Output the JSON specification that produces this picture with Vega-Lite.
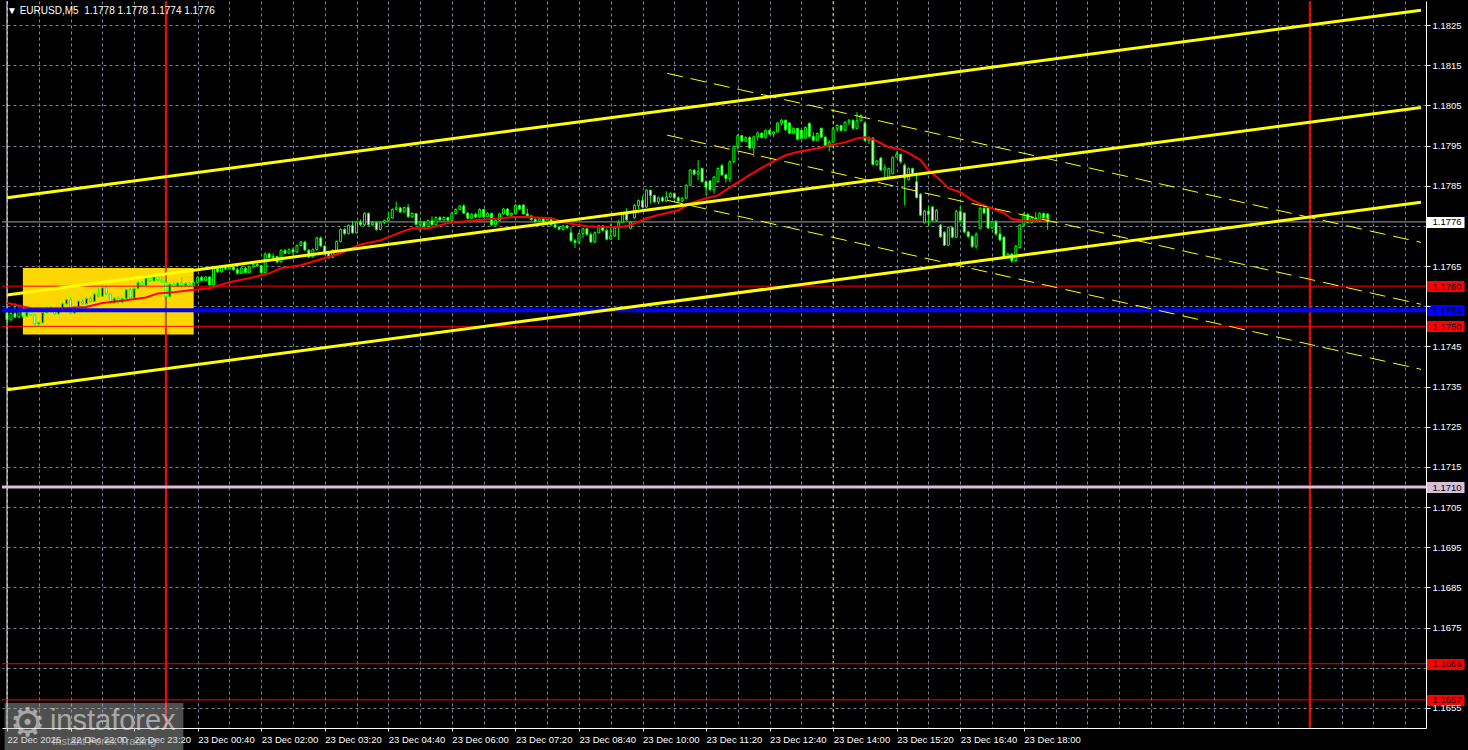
{
"$schema": "https://vega.github.io/schema/vega-lite/v6.json",
"width": 1424, "height": 727,
"autosize": {"type": "none"},
"padding": {"left": 2, "top": 1, "right": 42, "bottom": 22},
"background": "#000000",
"title": {"text": "▼ EURUSD,M5\u00a0\u00a01.1778 1.1778 1.1774 1.1776", "anchor": "start", "frame": "group", "orient": "top", "offset": -24, "dx": 5, "baseline": "alphabetic", "color": "#ffffff", "font": "Liberation Sans", "fontSize": 10, "fontWeight": "normal"},
"config": {
  "view": {"stroke": null, "fill": "#000000"},
  "axis": {"labelFont": "Liberation Sans", "labelFontSize": 9.5, "labelColor": "#ffffff", "domainColor": "#ffffff", "tickColor": "#ffffff", "gridColor": "#778899", "gridDash": [3, 3], "gridWidth": 1}
},
"datasets": {
"candles": [
{"t":"2025-12-22T20:40","o":1.17534,"h":1.17538,"l":1.17512,"c":1.17516},
{"t":"2025-12-22T20:45","o":1.17516,"h":1.17536,"l":1.17514,"c":1.17532},
{"t":"2025-12-22T20:50","o":1.17532,"h":1.17557,"l":1.17520,"c":1.17523},
{"t":"2025-12-22T20:55","o":1.17523,"h":1.17550,"l":1.17520,"c":1.17538},
{"t":"2025-12-22T21:00","o":1.17538,"h":1.17542,"l":1.17520,"c":1.17525},
{"t":"2025-12-22T21:05","o":1.17525,"h":1.17540,"l":1.17523,"c":1.17536},
{"t":"2025-12-22T21:10","o":1.17536,"h":1.17539,"l":1.17526,"c":1.17528},
{"t":"2025-12-22T21:15","o":1.17528,"h":1.17530,"l":1.17503,"c":1.17506},
{"t":"2025-12-22T21:20","o":1.17506,"h":1.17512,"l":1.17499,"c":1.17509},
{"t":"2025-12-22T21:25","o":1.17509,"h":1.17536,"l":1.17506,"c":1.17534},
{"t":"2025-12-22T21:30","o":1.17534,"h":1.17550,"l":1.17532,"c":1.17546},
{"t":"2025-12-22T21:35","o":1.17546,"h":1.17550,"l":1.17539,"c":1.17542},
{"t":"2025-12-22T21:40","o":1.17542,"h":1.17544,"l":1.17528,"c":1.17531},
{"t":"2025-12-22T21:45","o":1.17531,"h":1.17543,"l":1.17529,"c":1.17540},
{"t":"2025-12-22T21:50","o":1.17540,"h":1.17560,"l":1.17538,"c":1.17556},
{"t":"2025-12-22T21:55","o":1.17556,"h":1.17569,"l":1.17552,"c":1.17566},
{"t":"2025-12-22T22:00","o":1.17566,"h":1.17573,"l":1.17530,"c":1.17533},
{"t":"2025-12-22T22:05","o":1.17533,"h":1.17552,"l":1.17530,"c":1.17549},
{"t":"2025-12-22T22:10","o":1.17549,"h":1.17566,"l":1.17546,"c":1.17562},
{"t":"2025-12-22T22:15","o":1.17562,"h":1.17568,"l":1.17554,"c":1.17556},
{"t":"2025-12-22T22:20","o":1.17556,"h":1.17572,"l":1.17554,"c":1.17569},
{"t":"2025-12-22T22:25","o":1.17569,"h":1.17574,"l":1.17559,"c":1.17562},
{"t":"2025-12-22T22:30","o":1.17562,"h":1.17584,"l":1.17560,"c":1.17580},
{"t":"2025-12-22T22:35","o":1.17580,"h":1.17598,"l":1.17572,"c":1.17575},
{"t":"2025-12-22T22:40","o":1.17575,"h":1.17602,"l":1.17573,"c":1.17596},
{"t":"2025-12-22T22:45","o":1.17596,"h":1.17599,"l":1.17578,"c":1.17581},
{"t":"2025-12-22T22:50","o":1.17581,"h":1.17583,"l":1.17554,"c":1.17558},
{"t":"2025-12-22T22:55","o":1.17558,"h":1.17573,"l":1.17555,"c":1.17570},
{"t":"2025-12-22T23:00","o":1.17570,"h":1.17575,"l":1.17556,"c":1.17560},
{"t":"2025-12-22T23:05","o":1.17560,"h":1.17572,"l":1.17557,"c":1.17569},
{"t":"2025-12-22T23:10","o":1.17569,"h":1.17594,"l":1.17567,"c":1.17591},
{"t":"2025-12-22T23:15","o":1.17591,"h":1.17596,"l":1.17568,"c":1.17570},
{"t":"2025-12-22T23:20","o":1.17570,"h":1.17598,"l":1.17568,"c":1.17594},
{"t":"2025-12-22T23:25","o":1.17594,"h":1.17613,"l":1.17592,"c":1.17609},
{"t":"2025-12-22T23:30","o":1.17609,"h":1.17614,"l":1.17598,"c":1.17602},
{"t":"2025-12-22T23:35","o":1.17602,"h":1.17625,"l":1.17600,"c":1.17620},
{"t":"2025-12-22T23:40","o":1.17620,"h":1.17626,"l":1.17610,"c":1.17613},
{"t":"2025-12-22T23:45","o":1.17613,"h":1.17628,"l":1.17611,"c":1.17624},
{"t":"2025-12-22T23:50","o":1.17624,"h":1.17627,"l":1.17612,"c":1.17615},
{"t":"2025-12-22T23:55","o":1.17615,"h":1.17626,"l":1.17608,"c":1.17610},
{"t":"2025-12-23T00:00","o":1.17610,"h":1.17645,"l":1.17495,"c":1.17574},
{"t":"2025-12-23T00:05","o":1.17574,"h":1.17609,"l":1.17572,"c":1.17605},
{"t":"2025-12-23T00:10","o":1.17605,"h":1.17610,"l":1.17596,"c":1.17599},
{"t":"2025-12-23T00:15","o":1.17599,"h":1.17612,"l":1.17597,"c":1.17608},
{"t":"2025-12-23T00:20","o":1.17608,"h":1.17622,"l":1.17594,"c":1.17601},
{"t":"2025-12-23T00:25","o":1.17601,"h":1.17610,"l":1.17598,"c":1.17607},
{"t":"2025-12-23T00:30","o":1.17607,"h":1.17610,"l":1.17599,"c":1.17602},
{"t":"2025-12-23T00:35","o":1.17602,"h":1.17612,"l":1.17600,"c":1.17609},
{"t":"2025-12-23T00:40","o":1.17609,"h":1.17625,"l":1.17607,"c":1.17622},
{"t":"2025-12-23T00:45","o":1.17622,"h":1.17626,"l":1.17612,"c":1.17614},
{"t":"2025-12-23T00:50","o":1.17614,"h":1.17625,"l":1.17612,"c":1.17623},
{"t":"2025-12-23T00:55","o":1.17623,"h":1.17624,"l":1.17600,"c":1.17603},
{"t":"2025-12-23T01:00","o":1.17603,"h":1.17648,"l":1.17601,"c":1.17644},
{"t":"2025-12-23T01:05","o":1.17644,"h":1.17650,"l":1.17633,"c":1.17636},
{"t":"2025-12-23T01:10","o":1.17636,"h":1.17649,"l":1.17634,"c":1.17646},
{"t":"2025-12-23T01:15","o":1.17646,"h":1.17652,"l":1.17640,"c":1.17643},
{"t":"2025-12-23T01:20","o":1.17643,"h":1.17650,"l":1.17641,"c":1.17648},
{"t":"2025-12-23T01:25","o":1.17648,"h":1.17651,"l":1.17639,"c":1.17641},
{"t":"2025-12-23T01:30","o":1.17641,"h":1.17646,"l":1.17629,"c":1.17632},
{"t":"2025-12-23T01:35","o":1.17632,"h":1.17648,"l":1.17630,"c":1.17645},
{"t":"2025-12-23T01:40","o":1.17645,"h":1.17649,"l":1.17631,"c":1.17634},
{"t":"2025-12-23T01:45","o":1.17634,"h":1.17651,"l":1.17632,"c":1.17648},
{"t":"2025-12-23T01:50","o":1.17648,"h":1.17658,"l":1.17645,"c":1.17654},
{"t":"2025-12-23T01:55","o":1.17654,"h":1.17659,"l":1.17648,"c":1.17651},
{"t":"2025-12-23T02:00","o":1.17651,"h":1.17653,"l":1.17630,"c":1.17634},
{"t":"2025-12-23T02:05","o":1.17634,"h":1.17684,"l":1.17632,"c":1.17680},
{"t":"2025-12-23T02:10","o":1.17680,"h":1.17684,"l":1.17669,"c":1.17671},
{"t":"2025-12-23T02:15","o":1.17671,"h":1.17682,"l":1.17665,"c":1.17674},
{"t":"2025-12-23T02:20","o":1.17674,"h":1.17676,"l":1.17658,"c":1.17660},
{"t":"2025-12-23T02:25","o":1.17660,"h":1.17692,"l":1.17659,"c":1.17689},
{"t":"2025-12-23T02:30","o":1.17689,"h":1.17693,"l":1.17680,"c":1.17682},
{"t":"2025-12-23T02:35","o":1.17682,"h":1.17694,"l":1.17680,"c":1.17691},
{"t":"2025-12-23T02:40","o":1.17691,"h":1.17696,"l":1.17678,"c":1.17685},
{"t":"2025-12-23T02:45","o":1.17685,"h":1.17704,"l":1.17683,"c":1.17701},
{"t":"2025-12-23T02:50","o":1.17701,"h":1.17713,"l":1.17699,"c":1.17710},
{"t":"2025-12-23T02:55","o":1.17710,"h":1.17713,"l":1.17688,"c":1.17690},
{"t":"2025-12-23T03:00","o":1.17690,"h":1.17692,"l":1.17670,"c":1.17673},
{"t":"2025-12-23T03:05","o":1.17673,"h":1.17694,"l":1.17671,"c":1.17691},
{"t":"2025-12-23T03:10","o":1.17691,"h":1.17723,"l":1.17689,"c":1.17720},
{"t":"2025-12-23T03:15","o":1.17720,"h":1.17724,"l":1.17698,"c":1.17700},
{"t":"2025-12-23T03:20","o":1.17700,"h":1.17702,"l":1.17678,"c":1.17681},
{"t":"2025-12-23T03:25","o":1.17681,"h":1.17684,"l":1.17668,"c":1.17672},
{"t":"2025-12-23T03:30","o":1.17672,"h":1.17692,"l":1.17670,"c":1.17689},
{"t":"2025-12-23T03:35","o":1.17689,"h":1.17714,"l":1.17687,"c":1.17711},
{"t":"2025-12-23T03:40","o":1.17711,"h":1.17744,"l":1.17709,"c":1.17741},
{"t":"2025-12-23T03:45","o":1.17741,"h":1.17745,"l":1.17728,"c":1.17731},
{"t":"2025-12-23T03:50","o":1.17731,"h":1.17754,"l":1.17729,"c":1.17751},
{"t":"2025-12-23T03:55","o":1.17751,"h":1.17762,"l":1.17730,"c":1.17733},
{"t":"2025-12-23T04:00","o":1.17733,"h":1.17762,"l":1.17731,"c":1.17759},
{"t":"2025-12-23T04:05","o":1.17759,"h":1.17766,"l":1.17749,"c":1.17753},
{"t":"2025-12-23T04:10","o":1.17753,"h":1.17784,"l":1.17750,"c":1.17781},
{"t":"2025-12-23T04:15","o":1.17781,"h":1.17784,"l":1.17750,"c":1.17753},
{"t":"2025-12-23T04:20","o":1.17753,"h":1.17762,"l":1.17750,"c":1.17759},
{"t":"2025-12-23T04:25","o":1.17759,"h":1.17761,"l":1.17738,"c":1.17741},
{"t":"2025-12-23T04:30","o":1.17741,"h":1.17761,"l":1.17739,"c":1.17758},
{"t":"2025-12-23T04:35","o":1.17758,"h":1.17766,"l":1.17754,"c":1.17763},
{"t":"2025-12-23T04:40","o":1.17763,"h":1.17784,"l":1.17760,"c":1.17770},
{"t":"2025-12-23T04:45","o":1.17770,"h":1.17794,"l":1.17768,"c":1.17791},
{"t":"2025-12-23T04:50","o":1.17791,"h":1.17810,"l":1.17788,"c":1.17795},
{"t":"2025-12-23T04:55","o":1.17795,"h":1.17798,"l":1.17782,"c":1.17785},
{"t":"2025-12-23T05:00","o":1.17785,"h":1.17798,"l":1.17783,"c":1.17796},
{"t":"2025-12-23T05:05","o":1.17796,"h":1.17804,"l":1.17770,"c":1.17773},
{"t":"2025-12-23T05:10","o":1.17773,"h":1.17784,"l":1.17770,"c":1.17781},
{"t":"2025-12-23T05:15","o":1.17781,"h":1.17782,"l":1.17751,"c":1.17754},
{"t":"2025-12-23T05:20","o":1.17754,"h":1.17764,"l":1.17735,"c":1.17759},
{"t":"2025-12-23T05:25","o":1.17759,"h":1.17762,"l":1.17746,"c":1.17749},
{"t":"2025-12-23T05:30","o":1.17749,"h":1.17766,"l":1.17747,"c":1.17763},
{"t":"2025-12-23T05:35","o":1.17763,"h":1.17774,"l":1.17750,"c":1.17753},
{"t":"2025-12-23T05:40","o":1.17753,"h":1.17774,"l":1.17751,"c":1.17771},
{"t":"2025-12-23T05:45","o":1.17771,"h":1.17774,"l":1.17762,"c":1.17765},
{"t":"2025-12-23T05:50","o":1.17765,"h":1.17774,"l":1.17763,"c":1.17771},
{"t":"2025-12-23T05:55","o":1.17771,"h":1.17773,"l":1.17762,"c":1.17764},
{"t":"2025-12-23T06:00","o":1.17764,"h":1.17784,"l":1.17762,"c":1.17781},
{"t":"2025-12-23T06:05","o":1.17781,"h":1.17794,"l":1.17779,"c":1.17791},
{"t":"2025-12-23T06:10","o":1.17791,"h":1.17802,"l":1.17789,"c":1.17800},
{"t":"2025-12-23T06:15","o":1.17800,"h":1.17804,"l":1.17780,"c":1.17782},
{"t":"2025-12-23T06:20","o":1.17782,"h":1.17784,"l":1.17766,"c":1.17769},
{"t":"2025-12-23T06:25","o":1.17769,"h":1.17782,"l":1.17767,"c":1.17779},
{"t":"2025-12-23T06:30","o":1.17779,"h":1.17783,"l":1.17769,"c":1.17772},
{"t":"2025-12-23T06:35","o":1.17772,"h":1.17794,"l":1.17770,"c":1.17791},
{"t":"2025-12-23T06:40","o":1.17791,"h":1.17793,"l":1.17770,"c":1.17773},
{"t":"2025-12-23T06:45","o":1.17773,"h":1.17784,"l":1.17771,"c":1.17781},
{"t":"2025-12-23T06:50","o":1.17781,"h":1.17783,"l":1.17750,"c":1.17753},
{"t":"2025-12-23T06:55","o":1.17753,"h":1.17766,"l":1.17751,"c":1.17764},
{"t":"2025-12-23T07:00","o":1.17764,"h":1.17783,"l":1.17762,"c":1.17780},
{"t":"2025-12-23T07:05","o":1.17780,"h":1.17795,"l":1.17778,"c":1.17792},
{"t":"2025-12-23T07:10","o":1.17792,"h":1.17794,"l":1.17774,"c":1.17777},
{"t":"2025-12-23T07:15","o":1.17777,"h":1.17783,"l":1.17770,"c":1.17781},
{"t":"2025-12-23T07:20","o":1.17781,"h":1.17805,"l":1.17779,"c":1.17801},
{"t":"2025-12-23T07:25","o":1.17801,"h":1.17803,"l":1.17789,"c":1.17792},
{"t":"2025-12-23T07:30","o":1.17802,"h":1.17804,"l":1.17778,"c":1.17780},
{"t":"2025-12-23T07:35","o":1.17780,"h":1.17793,"l":1.17772,"c":1.17775},
{"t":"2025-12-23T07:40","o":1.17775,"h":1.17776,"l":1.17763,"c":1.17766},
{"t":"2025-12-23T07:45","o":1.17766,"h":1.17770,"l":1.17758,"c":1.17761},
{"t":"2025-12-23T07:50","o":1.17761,"h":1.17770,"l":1.17759,"c":1.17768},
{"t":"2025-12-23T07:55","o":1.17768,"h":1.17770,"l":1.17756,"c":1.17759},
{"t":"2025-12-23T08:00","o":1.17759,"h":1.17770,"l":1.17757,"c":1.17767},
{"t":"2025-12-23T08:05","o":1.17767,"h":1.17772,"l":1.17750,"c":1.17753},
{"t":"2025-12-23T08:10","o":1.17753,"h":1.17756,"l":1.17744,"c":1.17747},
{"t":"2025-12-23T08:15","o":1.17747,"h":1.17750,"l":1.17739,"c":1.17742},
{"t":"2025-12-23T08:20","o":1.17742,"h":1.17753,"l":1.17738,"c":1.17750},
{"t":"2025-12-23T08:25","o":1.17750,"h":1.17752,"l":1.17743,"c":1.17745},
{"t":"2025-12-23T08:30","o":1.17733,"h":1.17747,"l":1.17710,"c":1.17713},
{"t":"2025-12-23T08:35","o":1.17713,"h":1.17718,"l":1.17695,"c":1.17709},
{"t":"2025-12-23T08:40","o":1.17709,"h":1.17734,"l":1.17706,"c":1.17731},
{"t":"2025-12-23T08:45","o":1.17731,"h":1.17746,"l":1.17720,"c":1.17743},
{"t":"2025-12-23T08:50","o":1.17743,"h":1.17745,"l":1.17726,"c":1.17729},
{"t":"2025-12-23T08:55","o":1.17729,"h":1.17734,"l":1.17708,"c":1.17710},
{"t":"2025-12-23T09:00","o":1.17710,"h":1.17736,"l":1.17707,"c":1.17733},
{"t":"2025-12-23T09:05","o":1.17733,"h":1.17753,"l":1.17731,"c":1.17750},
{"t":"2025-12-23T09:10","o":1.17750,"h":1.17752,"l":1.17736,"c":1.17739},
{"t":"2025-12-23T09:15","o":1.17739,"h":1.17744,"l":1.17714,"c":1.17717},
{"t":"2025-12-23T09:20","o":1.17717,"h":1.17756,"l":1.17715,"c":1.17725},
{"t":"2025-12-23T09:25","o":1.17725,"h":1.17748,"l":1.17723,"c":1.17745},
{"t":"2025-12-23T09:30","o":1.17745,"h":1.17765,"l":1.17715,"c":1.17759},
{"t":"2025-12-23T09:35","o":1.17759,"h":1.17784,"l":1.17757,"c":1.17780},
{"t":"2025-12-23T09:40","o":1.17780,"h":1.17794,"l":1.17762,"c":1.17765},
{"t":"2025-12-23T09:45","o":1.17744,"h":1.17762,"l":1.17742,"c":1.17759},
{"t":"2025-12-23T09:50","o":1.17770,"h":1.17804,"l":1.17768,"c":1.17801},
{"t":"2025-12-23T09:55","o":1.17801,"h":1.17816,"l":1.17792,"c":1.17813},
{"t":"2025-12-23T10:00","o":1.17813,"h":1.17824,"l":1.17794,"c":1.17797},
{"t":"2025-12-23T10:05","o":1.17797,"h":1.17842,"l":1.17795,"c":1.17839},
{"t":"2025-12-23T10:10","o":1.17839,"h":1.17840,"l":1.17806,"c":1.17826},
{"t":"2025-12-23T10:15","o":1.17826,"h":1.17828,"l":1.17807,"c":1.17810},
{"t":"2025-12-23T10:20","o":1.17810,"h":1.17823,"l":1.17804,"c":1.17820},
{"t":"2025-12-23T10:25","o":1.17820,"h":1.17824,"l":1.17809,"c":1.17812},
{"t":"2025-12-23T10:30","o":1.17812,"h":1.17836,"l":1.17810,"c":1.17822},
{"t":"2025-12-23T10:35","o":1.17822,"h":1.17834,"l":1.17820,"c":1.17831},
{"t":"2025-12-23T10:40","o":1.17831,"h":1.17833,"l":1.17817,"c":1.17820},
{"t":"2025-12-23T10:45","o":1.17820,"h":1.17824,"l":1.17808,"c":1.17812},
{"t":"2025-12-23T10:50","o":1.17812,"h":1.17822,"l":1.17809,"c":1.17819},
{"t":"2025-12-23T10:55","o":1.17819,"h":1.17854,"l":1.17817,"c":1.17851},
{"t":"2025-12-23T11:00","o":1.17851,"h":1.17892,"l":1.17849,"c":1.17889},
{"t":"2025-12-23T11:05","o":1.17889,"h":1.17891,"l":1.17876,"c":1.17879},
{"t":"2025-12-23T11:10","o":1.17879,"h":1.17914,"l":1.17864,"c":1.17885},
{"t":"2025-12-23T11:15","o":1.17893,"h":1.17895,"l":1.17858,"c":1.17860},
{"t":"2025-12-23T11:20","o":1.17860,"h":1.17864,"l":1.17826,"c":1.17846},
{"t":"2025-12-23T11:25","o":1.17862,"h":1.17864,"l":1.17838,"c":1.17840},
{"t":"2025-12-23T11:30","o":1.17840,"h":1.17874,"l":1.17830,"c":1.17872},
{"t":"2025-12-23T11:35","o":1.17860,"h":1.17896,"l":1.17858,"c":1.17893},
{"t":"2025-12-23T11:40","o":1.17900,"h":1.17904,"l":1.17874,"c":1.17877},
{"t":"2025-12-23T11:45","o":1.17877,"h":1.17880,"l":1.17858,"c":1.17868},
{"t":"2025-12-23T11:50","o":1.17868,"h":1.17913,"l":1.17859,"c":1.17910},
{"t":"2025-12-23T11:55","o":1.17910,"h":1.17950,"l":1.17906,"c":1.17948},
{"t":"2025-12-23T12:00","o":1.17948,"h":1.17978,"l":1.17940,"c":1.17975},
{"t":"2025-12-23T12:05","o":1.17975,"h":1.17977,"l":1.17958,"c":1.17961},
{"t":"2025-12-23T12:10","o":1.17961,"h":1.17973,"l":1.17959,"c":1.17970},
{"t":"2025-12-23T12:15","o":1.17970,"h":1.17974,"l":1.17940,"c":1.17944},
{"t":"2025-12-23T12:20","o":1.17944,"h":1.17975,"l":1.17923,"c":1.17972},
{"t":"2025-12-23T12:25","o":1.17972,"h":1.17985,"l":1.17962,"c":1.17981},
{"t":"2025-12-23T12:30","o":1.17981,"h":1.17983,"l":1.17968,"c":1.17970},
{"t":"2025-12-23T12:35","o":1.17970,"h":1.17990,"l":1.17968,"c":1.17988},
{"t":"2025-12-23T12:40","o":1.17988,"h":1.17990,"l":1.17976,"c":1.17979},
{"t":"2025-12-23T12:45","o":1.17979,"h":1.17986,"l":1.17971,"c":1.17984},
{"t":"2025-12-23T12:50","o":1.17984,"h":1.18009,"l":1.17982,"c":1.18006},
{"t":"2025-12-23T12:55","o":1.18006,"h":1.18016,"l":1.18000,"c":1.18013},
{"t":"2025-12-23T13:00","o":1.18013,"h":1.18015,"l":1.17986,"c":1.17990},
{"t":"2025-12-23T13:05","o":1.18006,"h":1.18009,"l":1.17979,"c":1.17981},
{"t":"2025-12-23T13:10","o":1.17981,"h":1.17995,"l":1.17978,"c":1.17993},
{"t":"2025-12-23T13:15","o":1.17993,"h":1.17994,"l":1.17963,"c":1.17966},
{"t":"2025-12-23T13:20","o":1.17988,"h":1.17990,"l":1.17966,"c":1.17968},
{"t":"2025-12-23T13:25","o":1.17968,"h":1.17998,"l":1.17966,"c":1.17995},
{"t":"2025-12-23T13:30","o":1.18005,"h":1.18008,"l":1.17970,"c":1.17973},
{"t":"2025-12-23T13:35","o":1.17973,"h":1.17983,"l":1.17960,"c":1.17963},
{"t":"2025-12-23T13:40","o":1.17963,"h":1.17983,"l":1.17961,"c":1.17980},
{"t":"2025-12-23T13:45","o":1.17993,"h":1.17995,"l":1.17968,"c":1.17971},
{"t":"2025-12-23T13:50","o":1.17971,"h":1.17973,"l":1.17945,"c":1.17948},
{"t":"2025-12-23T13:55","o":1.17948,"h":1.17963,"l":1.17935,"c":1.17959},
{"t":"2025-12-23T14:00","o":1.17959,"h":1.17995,"l":1.17957,"c":1.17991},
{"t":"2025-12-23T14:05","o":1.17991,"h":1.18003,"l":1.17984,"c":1.18000},
{"t":"2025-12-23T14:10","o":1.18000,"h":1.18002,"l":1.17985,"c":1.17988},
{"t":"2025-12-23T14:15","o":1.17988,"h":1.18011,"l":1.17986,"c":1.18008},
{"t":"2025-12-23T14:20","o":1.18008,"h":1.18016,"l":1.18000,"c":1.18013},
{"t":"2025-12-23T14:25","o":1.18013,"h":1.18015,"l":1.17990,"c":1.17993},
{"t":"2025-12-23T14:30","o":1.17993,"h":1.18033,"l":1.17991,"c":1.18012},
{"t":"2025-12-23T14:35","o":1.18012,"h":1.18028,"l":1.18010,"c":1.18025},
{"t":"2025-12-23T14:40","o":1.18006,"h":1.18010,"l":1.17960,"c":1.17963},
{"t":"2025-12-23T14:45","o":1.17963,"h":1.17973,"l":1.17954,"c":1.17969},
{"t":"2025-12-23T14:50","o":1.17969,"h":1.17971,"l":1.17900,"c":1.17903},
{"t":"2025-12-23T14:55","o":1.17903,"h":1.17915,"l":1.17900,"c":1.17912},
{"t":"2025-12-23T15:00","o":1.17919,"h":1.17922,"l":1.17887,"c":1.17889},
{"t":"2025-12-23T15:05","o":1.17889,"h":1.17903,"l":1.17864,"c":1.17895},
{"t":"2025-12-23T15:10","o":1.17870,"h":1.17895,"l":1.17867,"c":1.17893},
{"t":"2025-12-23T15:15","o":1.17880,"h":1.17923,"l":1.17878,"c":1.17921},
{"t":"2025-12-23T15:20","o":1.17921,"h":1.17936,"l":1.17920,"c":1.17928},
{"t":"2025-12-23T15:25","o":1.17928,"h":1.17930,"l":1.17905,"c":1.17910},
{"t":"2025-12-23T15:30","o":1.17901,"h":1.17906,"l":1.17802,"c":1.17869},
{"t":"2025-12-23T15:35","o":1.17865,"h":1.17896,"l":1.17863,"c":1.17893},
{"t":"2025-12-23T15:40","o":1.17893,"h":1.17895,"l":1.17878,"c":1.17881},
{"t":"2025-12-23T15:45","o":1.17860,"h":1.17883,"l":1.17818,"c":1.17821},
{"t":"2025-12-23T15:50","o":1.17829,"h":1.17832,"l":1.17774,"c":1.17777},
{"t":"2025-12-23T15:55","o":1.17759,"h":1.17790,"l":1.17756,"c":1.17787},
{"t":"2025-12-23T16:00","o":1.17787,"h":1.17800,"l":1.17750,"c":1.17779},
{"t":"2025-12-23T16:05","o":1.17797,"h":1.17800,"l":1.17762,"c":1.17764},
{"t":"2025-12-23T16:10","o":1.17764,"h":1.17792,"l":1.17760,"c":1.17789},
{"t":"2025-12-23T16:15","o":1.17752,"h":1.17755,"l":1.17720,"c":1.17723},
{"t":"2025-12-23T16:20","o":1.17734,"h":1.17737,"l":1.17700,"c":1.17702},
{"t":"2025-12-23T16:25","o":1.17702,"h":1.17749,"l":1.17700,"c":1.17746},
{"t":"2025-12-23T16:30","o":1.17746,"h":1.17748,"l":1.17719,"c":1.17722},
{"t":"2025-12-23T16:35","o":1.17722,"h":1.17790,"l":1.17720,"c":1.17786},
{"t":"2025-12-23T16:40","o":1.17786,"h":1.17800,"l":1.17759,"c":1.17764},
{"t":"2025-12-23T16:45","o":1.17782,"h":1.17784,"l":1.17732,"c":1.17735},
{"t":"2025-12-23T16:50","o":1.17735,"h":1.17738,"l":1.17720,"c":1.17724},
{"t":"2025-12-23T16:55","o":1.17724,"h":1.17726,"l":1.17695,"c":1.17699},
{"t":"2025-12-23T17:00","o":1.17699,"h":1.17734,"l":1.17693,"c":1.17729},
{"t":"2025-12-23T17:05","o":1.17744,"h":1.17797,"l":1.17742,"c":1.17794},
{"t":"2025-12-23T17:10","o":1.17794,"h":1.17796,"l":1.17779,"c":1.17782},
{"t":"2025-12-23T17:15","o":1.17796,"h":1.17798,"l":1.17742,"c":1.17745},
{"t":"2025-12-23T17:20","o":1.17745,"h":1.17762,"l":1.17743,"c":1.17760},
{"t":"2025-12-23T17:25","o":1.17760,"h":1.17765,"l":1.17725,"c":1.17730},
{"t":"2025-12-23T17:30","o":1.17730,"h":1.17748,"l":1.17712,"c":1.17715},
{"t":"2025-12-23T17:35","o":1.17722,"h":1.17725,"l":1.17669,"c":1.17672},
{"t":"2025-12-23T17:40","o":1.17672,"h":1.17683,"l":1.17668,"c":1.17680},
{"t":"2025-12-23T17:45","o":1.17680,"h":1.17682,"l":1.17658,"c":1.17663},
{"t":"2025-12-23T17:50","o":1.17663,"h":1.17703,"l":1.17660,"c":1.17699},
{"t":"2025-12-23T17:55","o":1.17696,"h":1.17755,"l":1.17694,"c":1.17752},
{"t":"2025-12-23T18:00","o":1.17752,"h":1.17783,"l":1.17750,"c":1.17779},
{"t":"2025-12-23T18:05","o":1.17779,"h":1.17781,"l":1.17756,"c":1.17759},
{"t":"2025-12-23T18:10","o":1.17759,"h":1.17774,"l":1.17756,"c":1.17770},
{"t":"2025-12-23T18:15","o":1.17770,"h":1.17784,"l":1.17760,"c":1.17763},
{"t":"2025-12-23T18:20","o":1.17763,"h":1.17784,"l":1.17761,"c":1.17781},
{"t":"2025-12-23T18:25","o":1.17781,"h":1.17783,"l":1.17766,"c":1.17770},
{"t":"2025-12-23T18:30","o":1.17780,"h":1.17780,"l":1.17740,"c":1.17760}
],
"ma": [
{"t":"2025-12-22T20:40","v":1.17558},{"t":"2025-12-22T21:10","v":1.17545},{"t":"2025-12-22T21:50","v":1.17545},
{"t":"2025-12-22T22:20","v":1.17548},{"t":"2025-12-22T22:40","v":1.17558},{"t":"2025-12-22T23:10","v":1.17565},
{"t":"2025-12-22T23:35","v":1.17572},{"t":"2025-12-22T23:50","v":1.17582},{"t":"2025-12-23T00:10","v":1.17585},
{"t":"2025-12-23T00:30","v":1.17590},{"t":"2025-12-23T00:55","v":1.17595},{"t":"2025-12-23T01:20","v":1.17610},
{"t":"2025-12-23T01:45","v":1.17620},{"t":"2025-12-23T02:10","v":1.17632},{"t":"2025-12-23T02:25","v":1.17645},
{"t":"2025-12-23T02:50","v":1.17652},{"t":"2025-12-23T03:15","v":1.17667},{"t":"2025-12-23T03:40","v":1.17682},
{"t":"2025-12-23T04:05","v":1.17704},{"t":"2025-12-23T04:30","v":1.17714},{"t":"2025-12-23T04:55","v":1.17734},
{"t":"2025-12-23T05:10","v":1.17744},{"t":"2025-12-23T05:30","v":1.17744},{"t":"2025-12-23T05:55","v":1.17757},
{"t":"2025-12-23T06:20","v":1.17762},{"t":"2025-12-23T06:50","v":1.17767},{"t":"2025-12-23T07:15","v":1.17772},
{"t":"2025-12-23T07:35","v":1.17772},{"t":"2025-12-23T08:05","v":1.17769},{"t":"2025-12-23T08:25","v":1.17757},
{"t":"2025-12-23T08:50","v":1.17749},{"t":"2025-12-23T09:30","v":1.17747},{"t":"2025-12-23T09:45","v":1.17752},
{"t":"2025-12-23T10:05","v":1.17769},{"t":"2025-12-23T10:20","v":1.17777},{"t":"2025-12-23T10:45","v":1.17789},
{"t":"2025-12-23T11:00","v":1.17806},{"t":"2025-12-23T11:20","v":1.17819},{"t":"2025-12-23T11:35","v":1.17826},
{"t":"2025-12-23T11:50","v":1.17846},{"t":"2025-12-23T12:10","v":1.17871},{"t":"2025-12-23T12:25","v":1.17889},
{"t":"2025-12-23T12:40","v":1.17906},{"t":"2025-12-23T13:00","v":1.17926},{"t":"2025-12-23T13:15","v":1.17934},
{"t":"2025-12-23T13:40","v":1.17943},{"t":"2025-12-23T13:55","v":1.17951},{"t":"2025-12-23T14:15","v":1.17958},
{"t":"2025-12-23T14:30","v":1.17968},{"t":"2025-12-23T14:40","v":1.17971},{"t":"2025-12-23T14:50","v":1.17966},
{"t":"2025-12-23T15:10","v":1.17946},{"t":"2025-12-23T15:25","v":1.17941},{"t":"2025-12-23T15:35","v":1.17931},
{"t":"2025-12-23T15:50","v":1.17914},{"t":"2025-12-23T16:00","v":1.17889},{"t":"2025-12-23T16:15","v":1.17864},
{"t":"2025-12-23T16:25","v":1.17844},{"t":"2025-12-23T16:40","v":1.17834},{"t":"2025-12-23T16:55","v":1.17814},
{"t":"2025-12-23T17:15","v":1.17797},{"t":"2025-12-23T17:35","v":1.17782},{"t":"2025-12-23T17:45","v":1.17767},
{"t":"2025-12-23T18:05","v":1.17762},{"t":"2025-12-23T18:30","v":1.17767}
],
"hlines": [
{"price":1.1776,"kind":"bid"},
{"price":1.176,"kind":"level"},
{"price":1.175,"kind":"level"},
{"price":1.1666,"kind":"level"},
{"price":1.1657,"kind":"level"},
{"price":1.1754,"kind":"pivot"},
{"price":1.171,"kind":"target"}
],
"vlines": [
{"t":"2025-12-23T00:00","kind":"day"},
{"t":"2025-12-24T00:00","kind":"day"},
{"t":"2025-12-23T14:00","kind":"marker"},
{"t":"2025-12-22T20:40","kind":"edge"}
],
"trend": [
{"start":"2025-12-22T20:40","end":"2025-12-24T02:20","p1":1.1782,"p2":1.18287,"kind":"channel"},
{"start":"2025-12-22T20:40","end":"2025-12-24T02:20","p1":1.17578,"p2":1.18045,"kind":"channel"},
{"start":"2025-12-22T20:40","end":"2025-12-24T02:20","p1":1.17342,"p2":1.17809,"kind":"channel"},
{"start":"2025-12-23T10:31","end":"2025-12-24T02:20","p1":1.1813,"p2":1.17709,"kind":"desc"},
{"start":"2025-12-23T10:31","end":"2025-12-24T02:20","p1":1.17976,"p2":1.17555,"kind":"desc"},
{"start":"2025-12-23T10:31","end":"2025-12-24T02:20","p1":1.17814,"p2":1.17393,"kind":"desc"}
],
"zone": [
{"start":"2025-12-22T21:00","end":"2025-12-23T00:35","low":1.1748,"high":1.17645}
]
},
"layer": [
{
  "data": {"name": "zone"},
  "mark": {"type": "rect", "fill": "#ffd700"},
  "encoding": {
    "x": {"field": "start", "type": "temporal",
      "scale": {"type": "time", "domain": [{"year":2025,"month":12,"date":22,"hours":20,"minutes":40},{"year":2025,"month":12,"date":24,"hours":2,"minutes":20}], "nice": false},
      "axis": {"title": null, "orient": "bottom", "tickCount": 200,
        "values": [
          {"year":2025,"month":12,"date":22,"hours":20,"minutes":40},{"year":2025,"month":12,"date":22,"hours":21,"minutes":20},{"year":2025,"month":12,"date":22,"hours":22,"minutes":0},{"year":2025,"month":12,"date":22,"hours":22,"minutes":40},{"year":2025,"month":12,"date":22,"hours":23,"minutes":20},
          {"year":2025,"month":12,"date":23,"hours":0,"minutes":0},{"year":2025,"month":12,"date":23,"hours":0,"minutes":40},{"year":2025,"month":12,"date":23,"hours":1,"minutes":20},{"year":2025,"month":12,"date":23,"hours":2,"minutes":0},{"year":2025,"month":12,"date":23,"hours":2,"minutes":40},
          {"year":2025,"month":12,"date":23,"hours":3,"minutes":20},{"year":2025,"month":12,"date":23,"hours":4,"minutes":0},{"year":2025,"month":12,"date":23,"hours":4,"minutes":40},{"year":2025,"month":12,"date":23,"hours":5,"minutes":20},{"year":2025,"month":12,"date":23,"hours":6,"minutes":0},
          {"year":2025,"month":12,"date":23,"hours":6,"minutes":40},{"year":2025,"month":12,"date":23,"hours":7,"minutes":20},{"year":2025,"month":12,"date":23,"hours":8,"minutes":0},{"year":2025,"month":12,"date":23,"hours":8,"minutes":40},{"year":2025,"month":12,"date":23,"hours":9,"minutes":20},
          {"year":2025,"month":12,"date":23,"hours":10,"minutes":0},{"year":2025,"month":12,"date":23,"hours":10,"minutes":40},{"year":2025,"month":12,"date":23,"hours":11,"minutes":20},{"year":2025,"month":12,"date":23,"hours":12,"minutes":0},{"year":2025,"month":12,"date":23,"hours":12,"minutes":40},
          {"year":2025,"month":12,"date":23,"hours":13,"minutes":20},{"year":2025,"month":12,"date":23,"hours":14,"minutes":0},{"year":2025,"month":12,"date":23,"hours":14,"minutes":40},{"year":2025,"month":12,"date":23,"hours":15,"minutes":20},{"year":2025,"month":12,"date":23,"hours":16,"minutes":0},
          {"year":2025,"month":12,"date":23,"hours":16,"minutes":40},{"year":2025,"month":12,"date":23,"hours":17,"minutes":20},{"year":2025,"month":12,"date":23,"hours":18,"minutes":0},{"year":2025,"month":12,"date":23,"hours":18,"minutes":40},{"year":2025,"month":12,"date":23,"hours":19,"minutes":20},
          {"year":2025,"month":12,"date":23,"hours":20,"minutes":0},{"year":2025,"month":12,"date":23,"hours":20,"minutes":40},{"year":2025,"month":12,"date":23,"hours":21,"minutes":20},{"year":2025,"month":12,"date":23,"hours":22,"minutes":0},{"year":2025,"month":12,"date":23,"hours":22,"minutes":40},
          {"year":2025,"month":12,"date":23,"hours":23,"minutes":20},{"year":2025,"month":12,"date":24,"hours":0,"minutes":0},{"year":2025,"month":12,"date":24,"hours":0,"minutes":40},{"year":2025,"month":12,"date":24,"hours":1,"minutes":20},{"year":2025,"month":12,"date":24,"hours":2,"minutes":0}
        ],
        "grid": true, "gridColor": "#778899", "gridDash": [3, 3],
        "labelAlign": "left", "labelBaseline": "top", "labelPadding": 3, "labelOverlap": false, "labelFlush": false, "labelBound": false,
        "labelColor": "#ffffff", "labelFont": "Liberation Sans", "labelFontSize": 9.5,
        "labelExpr": "((time(datum.value) - time(datetime(2025,11,22,20,40))) % 4800000 == 0 && time(datum.value) <= time(datetime(2025,11,23,18,0))) ? (time(datum.value) == time(datetime(2025,11,22,20,40)) ? '22 Dec 2025' : timeFormat(datum.value, '%d %b %H:%M')) : ''",
        "tickSize": 3, "tickColor": "#ffffff",
        "tickOpacity": {"condition": {"test": "(time(datum.value) - time(datetime(2025,11,22,20,40))) % 4800000 == 0 && time(datum.value) <= time(datetime(2025,11,23,18,0))", "value": 1}, "value": 0},
        "domainColor": "#ffffff"
      }
    },
    "x2": {"field": "end"},
    "y": {"field": "low", "type": "quantitative",
      "scale": {"domain": [1.165, 1.1831], "nice": false, "zero": false},
      "axis": {"title": null, "orient": "right", "tickCount": 200,
        "values": [1.1655, 1.1657, 1.1665, 1.1666, 1.1675, 1.1685, 1.1695, 1.1705, 1.171, 1.1715, 1.1725, 1.1735, 1.1745, 1.175, 1.1754, 1.1755, 1.176, 1.1765, 1.1775, 1.1776, 1.1785, 1.1795, 1.1805, 1.1815, 1.1825],
        "grid": true, "gridColor": "#778899", "gridDash": [3, 3],
        "gridOpacity": {"condition": {"test": "indexof([1.1657,1.1666,1.171,1.175,1.1754,1.176,1.1776], datum.value) >= 0", "value": 0}, "value": 1},
        "labelExpr": "indexof([1.1775,1.1755,1.1665], datum.value) >= 0 ? '' : format(datum.value, '.4f')",
        "labelColor": {"condition": {"test": "indexof([1.1657,1.1666,1.171,1.175,1.1754,1.176,1.1776], datum.value) >= 0", "value": "#000000"}, "value": "#ffffff"},
        "labelFont": "Liberation Sans", "labelFontSize": 9.5, "labelOverlap": false, "labelFlush": false,
        "labelPadding": {"condition": {"test": "indexof([1.1657,1.1666,1.171,1.175,1.1754,1.176,1.1776], datum.value) >= 0", "value": -32}, "value": 2},
        "tickSize": {"condition": {"test": "indexof([1.1657,1.1666,1.171,1.175,1.1754,1.176,1.1776], datum.value) >= 0", "value": 38}, "value": 4},
        "tickWidth": {"condition": {"test": "indexof([1.1657,1.1666,1.171,1.175,1.1754,1.176,1.1776], datum.value) >= 0", "value": 11}, "value": 1},
        "tickColor": {"condition": [
          {"test": "datum.value == 1.1754", "value": "#0000ff"},
          {"test": "datum.value == 1.171", "value": "#d8bfd8"},
          {"test": "datum.value == 1.1776", "value": "#ffffff"},
          {"test": "indexof([1.1657,1.1666,1.175,1.176], datum.value) >= 0", "value": "#ff0000"}
        ], "value": "#ffffff"},
        "domainColor": "#ffffff"
      }
    },
    "y2": {"field": "high"}
  }
},
{
  "data": {"name": "vlines"},
  "transform": [{"filter": "datum.kind == 'day'"}],
  "mark": {"type": "rule", "color": "#ff0000", "strokeWidth": 2},
  "encoding": {"x": {"field": "t", "type": "temporal", "title": null}}
},
{
  "data": {"name": "vlines"},
  "transform": [{"filter": "datum.kind == 'marker'"}],
  "mark": {"type": "rule", "color": "#adff2f", "strokeWidth": 1, "strokeDash": [3, 3]},
  "encoding": {"x": {"field": "t", "type": "temporal", "title": null}}
},
{
  "data": {"name": "vlines"},
  "transform": [{"filter": "datum.kind == 'edge'"}],
  "mark": {"type": "rule", "color": "#ffffff", "strokeWidth": 1},
  "encoding": {"x": {"field": "t", "type": "temporal", "title": null}}
},
{
  "data": {"name": "hlines"},
  "transform": [{"filter": "datum.kind == 'bid'"}],
  "mark": {"type": "rule", "color": "#a0a0a0", "strokeWidth": 1},
  "encoding": {"y": {"field": "price", "type": "quantitative", "title": null}}
},
{
  "data": {"name": "candles"},
  "mark": {"type": "rule", "color": "#00ff00", "strokeWidth": 1},
  "encoding": {
    "x": {"field": "t", "type": "temporal", "title": null},
    "y": {"field": "l", "type": "quantitative", "title": null},
    "y2": {"field": "h"}
  }
},
{
  "data": {"name": "candles"},
  "mark": {"type": "bar", "width": 2, "stroke": "#00ff00", "strokeWidth": 1},
  "encoding": {
    "x": {"field": "t", "type": "temporal", "title": null},
    "y": {"field": "o", "type": "quantitative", "title": null},
    "y2": {"field": "c"},
    "fill": {"condition": {"test": "datum.c < datum.o", "value": "#ffffff"}, "value": "#000000"}
  }
},
{
  "data": {"name": "ma"},
  "mark": {"type": "line", "color": "#ff0000", "strokeWidth": 2},
  "encoding": {
    "x": {"field": "t", "type": "temporal", "title": null},
    "y": {"field": "v", "type": "quantitative", "title": null}
  }
},
{
  "data": {"name": "hlines"},
  "transform": [{"filter": "datum.kind == 'level'"}],
  "mark": {"type": "rule", "color": "#ff0000", "strokeWidth": 1},
  "encoding": {"y": {"field": "price", "type": "quantitative", "title": null}}
},
{
  "data": {"name": "hlines"},
  "transform": [{"filter": "datum.kind == 'pivot'"}],
  "mark": {"type": "rule", "color": "#0000ff", "strokeWidth": 4},
  "encoding": {"y": {"field": "price", "type": "quantitative", "title": null}}
},
{
  "data": {"name": "hlines"},
  "transform": [{"filter": "datum.kind == 'target'"}],
  "mark": {"type": "rule", "color": "#d8bfd8", "strokeWidth": 3},
  "encoding": {"y": {"field": "price", "type": "quantitative", "title": null}}
},
{
  "data": {"name": "trend"},
  "transform": [{"filter": "datum.kind == 'channel'"}],
  "mark": {"type": "rule", "color": "#ffff00", "strokeWidth": 3},
  "encoding": {
    "x": {"field": "start", "type": "temporal", "title": null},
    "x2": {"field": "end"},
    "y": {"field": "p1", "type": "quantitative", "title": null},
    "y2": {"field": "p2"}
  }
},
{
  "data": {"name": "trend"},
  "transform": [{"filter": "datum.kind == 'desc'"}],
  "mark": {"type": "rule", "color": "#ffff00", "strokeWidth": 1, "strokeDash": [16, 8]},
  "encoding": {
    "x": {"field": "start", "type": "temporal", "title": null},
    "x2": {"field": "end"},
    "y": {"field": "p1", "type": "quantitative", "title": null},
    "y2": {"field": "p2"}
  }
},
{
  "data": {"values": [{}]},
  "mark": {"type": "rect", "fill": "#b0b0b0", "opacity": 0.45},
  "encoding": {
    "x": {"datum": {"year":2025,"month":12,"date":22,"hours":20,"minutes":37}, "type": "temporal"},
    "x2": {"datum": {"year":2025,"month":12,"date":23,"hours":0,"minutes":22}},
    "y": {"datum": 1.16562, "type": "quantitative"},
    "y2": {"datum": 1.16445}
  }
},
{
  "data": {"values": [{}]},
  "mark": {"type": "text", "text": "⚙", "font": "DejaVu Sans", "fontSize": 40, "align": "center", "baseline": "middle", "color": "#ffffff", "opacity": 0.5},
  "encoding": {
    "x": {"datum": {"year":2025,"month":12,"date":22,"hours":21,"minutes":6}, "type": "temporal"},
    "y": {"datum": 1.16509, "type": "quantitative"}
  }
},
{
  "data": {"values": [{}]},
  "mark": {"type": "text", "text": "instaforex", "font": "Liberation Sans", "fontSize": 29, "align": "left", "baseline": "alphabetic", "color": "#ffffff", "opacity": 0.5},
  "encoding": {
    "x": {"datum": {"year":2025,"month":12,"date":22,"hours":21,"minutes":34}, "type": "temporal"},
    "y": {"datum": 1.16494, "type": "quantitative"}
  }
},
{
  "data": {"values": [{}]},
  "mark": {"type": "text", "text": "Instant Forex Trading", "font": "Liberation Sans", "fontSize": 11, "align": "left", "baseline": "alphabetic", "color": "#ffffff", "opacity": 0.5},
  "encoding": {
    "x": {"datum": {"year":2025,"month":12,"date":22,"hours":21,"minutes":37}, "type": "temporal"},
    "y": {"datum": 1.16457, "type": "quantitative"}
  }
}
]
}
